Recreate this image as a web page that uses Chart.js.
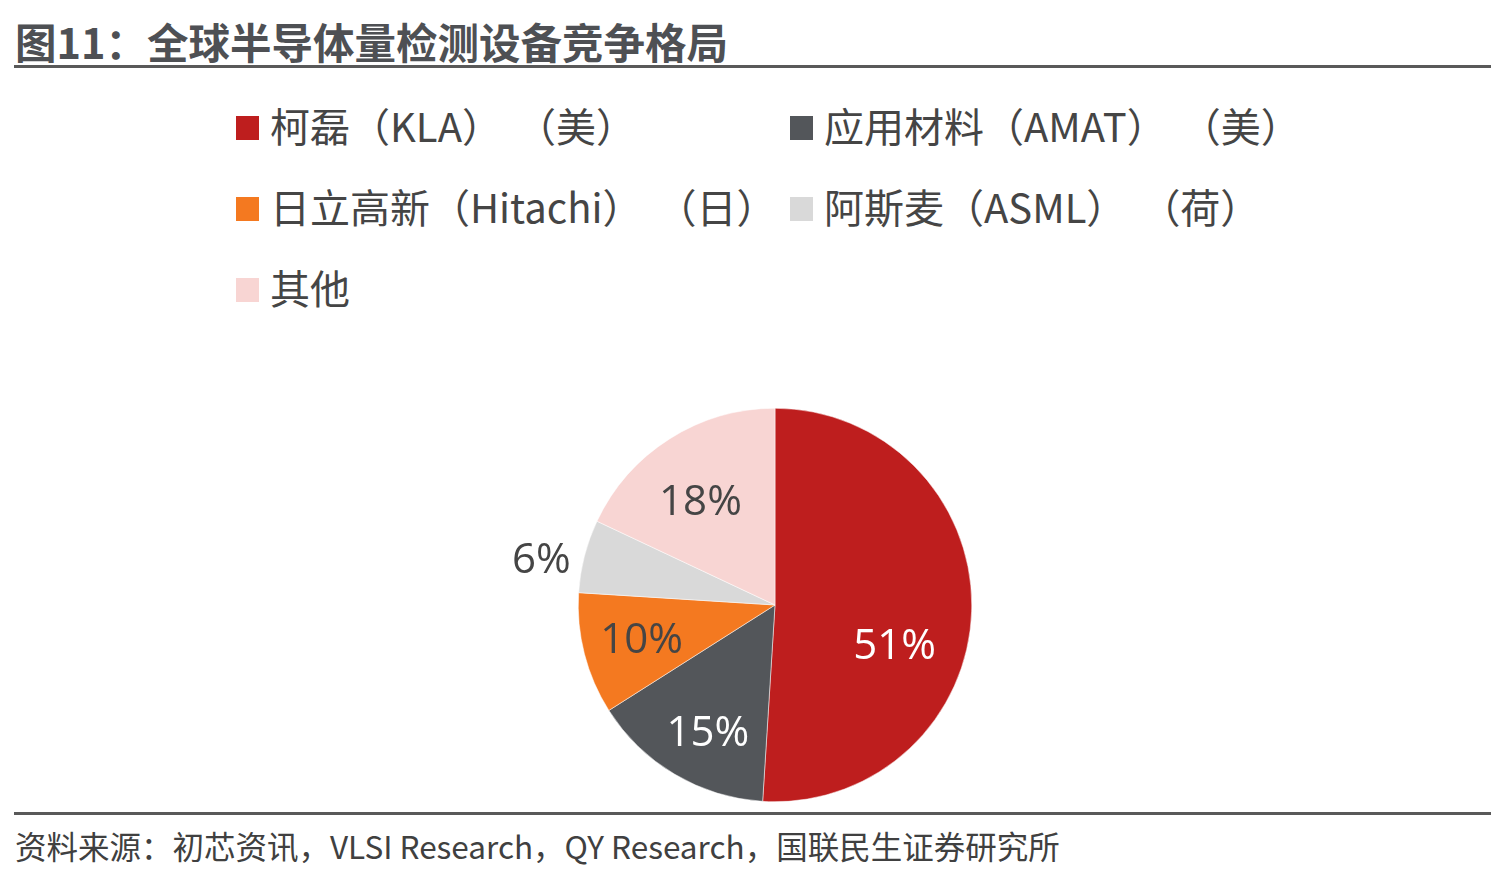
<!DOCTYPE html>
<html>
<head>
<meta charset="utf-8">
<script src="https://cdn.jsdelivr.net/npm/chart.js@4/dist/chart.umd.min.js"></script>
<style>
  body { margin: 0; width: 1492px; height: 871px; background: #fff; position: relative; overflow: hidden;
         font-family: "Noto Sans CJK SC", "Noto Sans", sans-serif; }
  #title { position: absolute; left: 15px; top: 15px; font-size: 41.5px; font-weight: bold; color: #4e5054; line-height: 52px; white-space: nowrap; }
  .rule { position: absolute; left: 14px; width: 1477px; height: 3px; background: #595959; }
  #legend { position: absolute; left: 236px; top: 100px; }
  .item { position: absolute; white-space: nowrap; font-size: 40px; color: #454545; line-height: 50px; }
  .sw { display: inline-block; width: 23px; height: 24px; vertical-align: middle; margin-right: 11px; position: relative; top: -3px; }
  .gap { display: inline-block; width: 14px; }
  #source { position: absolute; left: 15px; top: 824px; font-size: 31.5px; color: #404040; white-space: nowrap; line-height: 42px; }
  #wrap { position: absolute; left: 475px; top: 408px; width: 600px; height: 394px; }
</style>
</head>
<body>
<div id="title">图11：全球半导体量检测设备竞争格局</div>
<div class="rule" style="top:65px"></div>
<div id="legend"></div>
<div id="wrap"><canvas id="myChart"></canvas></div>
<div class="rule" style="top:812px"></div>
<div id="source">资料来源：初芯资讯，VLSI Research，QY Research，国联民生证券研究所</div>
<script>
var companies = ['柯磊（KLA）', '应用材料（AMAT）', '日立高新（Hitachi）', '阿斯麦（ASML）', '其他'];
var countries = ['（美）', '（美）', '（日）', '（荷）', ''];
var shares = [51, 15, 10, 6, 18];
var colors = ['#be1e1e', '#53565a', '#f47920', '#d9d9d9', '#f8d5d3'];
var labelColors = ['#ffffff', '#ffffff', '#454545', '#454545', '#454545'];
// label placement: fraction along the slice angle, and fraction of radius
var labelAngleFrac = [0.59, 0.45, 0.5, 0.35, 0.45];
var labelRadiusFrac = [0.64, 0.73, 0.70, 1.21, 0.65];

// legend, two columns
var legendPos = [[0, 0], [554, 0], [0, 81], [554, 81], [0, 162]];
var legend = document.getElementById('legend');
companies.forEach(function (name, i) {
    var d = document.createElement('div');
    d.className = 'item';
    d.style.left = legendPos[i][0] + 'px';
    d.style.top = legendPos[i][1] + 'px';
    d.innerHTML = '<span class="sw" style="background:' + colors[i] + '"></span>' + name +
        (countries[i] ? '<span class="gap"></span>' + countries[i] : '');
    legend.appendChild(d);
});

var pieLabels = {
    id: 'pieLabels',
    afterDatasetsDraw: function (chart) {
        var ctx = chart.ctx;
        var meta = chart.getDatasetMeta(0);
        ctx.save();
        ctx.font = '42px "Open Sans", "Noto Sans", sans-serif';
        ctx.textAlign = 'center';
        ctx.textBaseline = 'middle';
        meta.data.forEach(function (arc, i) {
            var p = arc.getProps(['x', 'y', 'startAngle', 'endAngle', 'outerRadius'], true);
            var a = p.startAngle + (p.endAngle - p.startAngle) * labelAngleFrac[i];
            var r = p.outerRadius * labelRadiusFrac[i];
            ctx.fillStyle = labelColors[i];
            ctx.fillText(shares[i] + '%', p.x + Math.cos(a) * r, p.y + Math.sin(a) * r + 2);
        });
        ctx.restore();
    }
};

var ctx = document.getElementById('myChart').getContext('2d');
var myChart = new Chart(ctx, {
    type: 'pie',
    data: {
        labels: companies,
        datasets: [{
            data: shares,
            backgroundColor: colors,
            borderColor: '#ffffff',
            borderWidth: 0.5
        }]
    },
    options: {
        responsive: true,
        maintainAspectRatio: false,
        animation: false,
        layout: { padding: 0 },
        plugins: {
            legend: { display: false },
            tooltip: { enabled: false }
        }
    },
    plugins: [pieLabels]
});
</script>
</body>
</html>
